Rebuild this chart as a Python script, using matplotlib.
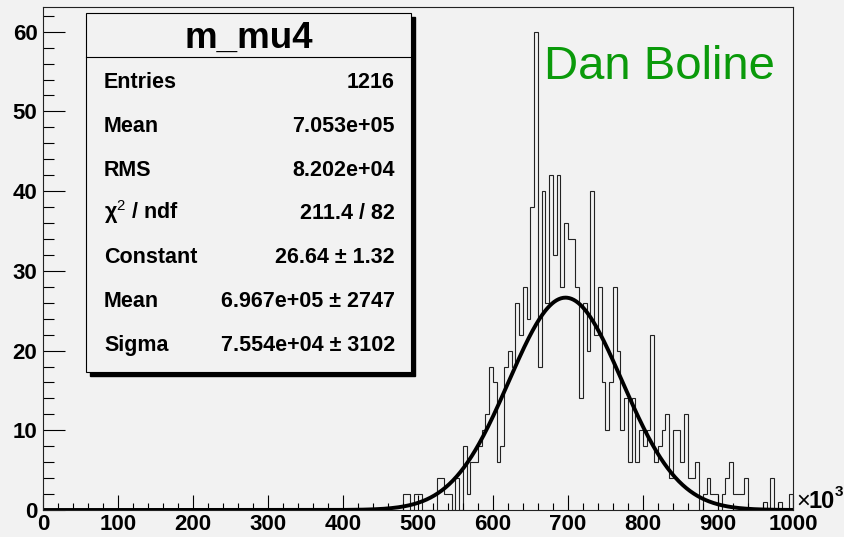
import numpy as np
import matplotlib
matplotlib.use("Agg")
import matplotlib.pyplot as plt
from matplotlib.patches import Rectangle

plt.rcParams['font.family'] = ['Liberation Sans', 'DejaVu Sans']
plt.rcParams['mathtext.fontset'] = 'custom'
plt.rcParams['mathtext.rm'] = 'Liberation Sans'
plt.rcParams['mathtext.bf'] = 'Liberation Sans:bold'
plt.rcParams['mathtext.it'] = 'Liberation Sans:italic'

# histogram m_mu4: 200 bins of 5 (x10^3) from 0 to 1000, non-zero region below
bin_width = 5
first_bin = 480
counts = [2, 2, 0, 2, 2, 0, 0, 0, 0, 4,      # 480-525
          4, 2, 2, 0, 4, 0, 8, 2, 6, 6,      # 530-575
          8, 10, 12, 18, 16, 6, 8, 18, 20, 18,   # 580-625
          26, 22, 28, 24, 38, 60, 18, 40, 26, 42,  # 630-675
          32, 42, 28, 36, 34, 34, 28, 14, 26, 20,  # 680-725
          40, 22, 28, 16, 10, 16, 28, 20, 10, 14,  # 730-775
          6, 14, 6, 10, 8, 10, 22, 6, 8, 10,       # 780-825
          12, 4, 10, 10, 6, 12, 4, 4, 6, 0,        # 830-875
          2, 4, 2, 2, 0, 2, 4, 6, 2, 2,            # 880-925
          2, 4, 0, 0, 0, 0, 1, 0, 4, 0,            # 930-975
          1, 0, 0, 2]                              # 980-995

# gaussian fit parameters (x in units of 10^3)
fit_const = 26.64
fit_mean = 696.7
fit_sigma = 75.54

stat_labels = ['Entries', 'Mean', 'RMS', '\u03c7$^{2}$ / ndf', 'Constant', 'Mean', 'Sigma']
stat_values = ['1216', '7.053e+05', '8.202e+04', '211.4 / 82',
               '26.64 \u00b1 1.32', '6.967e+05 \u00b1 2747', '7.554e+04 \u00b1 3102']

W, H = 845, 537
bg = '#f2f2f2'


def fx(x):
    return x / W


def fy(y):
    return 1 - y / H


fig = plt.figure(figsize=(W / 100, H / 100), dpi=100, facecolor=bg)
ax = fig.add_axes([fx(43), fy(510), (793 - 43) / W, (510 - 7) / H], facecolor=bg)

edges = np.arange(0, 1000 + bin_width, bin_width)
full = np.zeros(len(edges) - 1)
i0 = first_bin // bin_width
full[i0:i0 + len(counts)] = counts
ax.stairs(full, edges, color='#222222', lw=0.8)

xs = np.linspace(0, 1000, 1000)
ax.plot(xs, fit_const * np.exp(-0.5 * ((xs - fit_mean) / fit_sigma) ** 2),
        color='black', lw=2.8, solid_capstyle='butt')

ax.set_xlim(0, 1000)
ax.set_ylim(0, 63.1)
ax.set_xticks(np.arange(0, 1001, 100))
ax.set_xticks(np.arange(0, 1001, 20), minor=True)
ax.set_yticks(np.arange(0, 61, 10))
ax.set_yticks(np.arange(0, 63, 2), minor=True)
ax.tick_params(axis='x', which='major', direction='in', length=10.8, width=0.8,
               labelsize=16, pad=3, top=False)
ax.tick_params(axis='x', which='minor', direction='in', length=5.4, width=0.8, top=False)
ax.tick_params(axis='y', which='major', direction='in', length=15.8, width=0.8,
               labelsize=16, pad=4, right=False)
ax.tick_params(axis='y', which='minor', direction='in', length=7.9, width=0.8, right=False)
for lab in ax.get_xticklabels() + ax.get_yticklabels():
    lab.set_fontweight('bold')
for s in ax.spines.values():
    s.set_linewidth(0.8)
    s.set_color('#222222')

# x10^3 axis multiplier
fig.text(fx(796), fy(508), '\u00d7', fontsize=17, ha='left', va='baseline')
fig.text(fx(809), fy(508), '10', fontsize=17, fontweight='bold', ha='left', va='baseline')
fig.text(fx(835), fy(496), '3', fontsize=11, fontweight='bold', ha='left', va='baseline')

fig.text(fx(659), fy(79), 'Dan Boline', color='#0a9a0a', fontsize=34,
         ha='center', va='baseline')

# stats box with shadow
fig.patches.append(Rectangle((fx(90), fy(376)), (411 - 86) / W, (372 - 13) / H,
                             transform=fig.transFigure, facecolor='black',
                             edgecolor='black', zorder=5))
fig.patches.append(Rectangle((fx(86), fy(372)), (411 - 86) / W, (372 - 13) / H,
                             transform=fig.transFigure, facecolor=bg,
                             edgecolor='black', lw=0.8, zorder=6))
fig.add_artist(plt.Line2D([fx(86), fx(411)], [fy(57), fy(57)],
                          transform=fig.transFigure, color='black', lw=0.8, zorder=7))
fig.text(fx(248.5), fy(48), 'm_mu4', fontsize=26.5, fontweight='bold',
         ha='center', va='baseline', zorder=8)

for i, (lab, val) in enumerate(zip(stat_labels, stat_values)):
    yb = 88 + 43.8 * i
    fig.text(fx(104), fy(yb), lab, fontsize=15.5, fontweight='bold',
             ha='left', va='baseline', zorder=8)
    fig.text(fx(395), fy(yb), val, fontsize=15.5, fontweight='bold',
             ha='right', va='baseline', zorder=8)

fig.savefig('out.png', dpi=100, facecolor=bg)
